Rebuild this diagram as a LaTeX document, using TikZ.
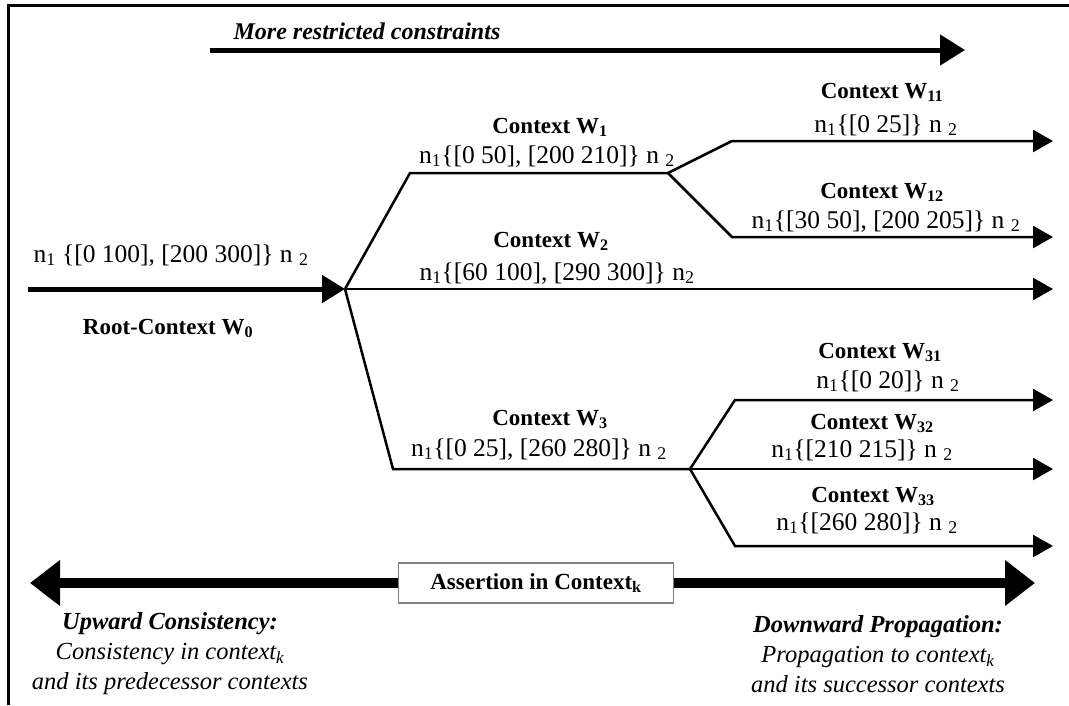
\documentclass[tikz,border=0pt]{standalone}
\usepackage{fontspec}
\setmainfont{Liberation Serif}
\usetikzlibrary{arrows.meta}

\begin{document}
\begin{tikzpicture}[
    x=1pt, y=-1pt,
    every node/.style={align=center, inner sep=0pt, font=\fontsize{25.5}{30}\selectfont},
    ctx/.style={anchor=base, font=\fontsize{23}{30}\selectfont\bfseries},
    rng/.style={anchor=base},
    frame/.style={line width=3pt},
    branch/.style={line width=2.5pt},
    leaf/.style={branch, -{Triangle[length=20pt, width=22pt]}},
    rootline/.style={line width=5pt, -{Triangle[length=23pt, width=27pt]}},
    trend/.style={line width=5pt, -{Triangle[length=25pt, width=30pt]}},
    bigarrow/.style={line width=10pt, {Triangle[length=30pt, width=44pt]}-{Triangle[length=30pt, width=44pt]}},
    assertbox/.style={draw=gray, line width=1.5pt, fill=white, minimum width=275pt, minimum height=40pt, font=\fontsize{23}{30}\selectfont\bfseries},
    note/.style={font=\fontsize{24.5}{30}\selectfont\itshape}
]
\useasboundingbox (0,0) rectangle (1069,705);

% frame
\draw[frame] (8,705) -- (8,5) -- (1069,5);

% More restricted constraints
\coordinate (mrs) at (210,50);
\coordinate (mre) at (965,50);
\draw[trend] (mrs) -- (mre);
\node[rng, font=\fontsize{24}{30}\selectfont\bfseries\itshape] (mrlabel) at (367,39) {More restricted constraints};

% Root context W0
\coordinate (w0s) at (28,289);
\coordinate (w0) at (345,289);
\draw[rootline] (w0s) -- (w0);
\node[rng] (w0rng) at (171,262) {n\textsubscript{1} \{[0 100], [200 300]\} n \textsubscript{2}};
\node[ctx] (w0name) at (168,334) {Root-Context W\textsubscript{0}};

% Context W1
\coordinate (w1a) at (410,173);
\coordinate (w1) at (668,173);
\draw[branch] (w0) -- (w1a) -- (w1);
\node[ctx] (w1name) at (550,133) {Context W\textsubscript{1}};
\node[rng] (w1rng) at (547,163) {n\textsubscript{1}\{[0 50], [200 210]\} n \textsubscript{2}};

% Context W11 and W12
\coordinate (w11a) at (732,141);
\coordinate (w11) at (1053,141);
\draw[leaf] (w1) -- (w11a) -- (w11);
\node[ctx] (w11name) at (882,98) {Context W\textsubscript{11}};
\node[rng] (w11rng) at (886,132) {n\textsubscript{1}\{[0 25]\} n \textsubscript{2}};

\coordinate (w12a) at (732,237);
\coordinate (w12) at (1053,237);
\draw[leaf] (w1) -- (w12a) -- (w12);
\node[ctx] (w12name) at (882,198) {Context W\textsubscript{12}};
\node[rng] (w12rng) at (886,228) {n\textsubscript{1}\{[30 50], [200 205]\} n \textsubscript{2}};

% Context W2
\coordinate (w2) at (1053,289);
\draw[leaf] (w0) -- (w2);
\node[ctx] (w2name) at (551,247) {Context W\textsubscript{2}};
\node[rng] (w2rng) at (557,280) {n\textsubscript{1}\{[60 100], [290 300]\} n\textsubscript{2}};

% Context W3
\coordinate (w3a) at (393,469);
\coordinate (w3) at (690,469);
\draw[branch] (w0) -- (w3a) -- (w3);
\node[ctx] (w3name) at (550,425) {Context W\textsubscript{3}};
\node[rng] (w3rng) at (539,456) {n\textsubscript{1}\{[0 25], [260 280]\} n \textsubscript{2}};

% Context W31, W32, W33
\coordinate (w31a) at (735,400);
\coordinate (w31) at (1053,400);
\draw[leaf] (w3) -- (w31a) -- (w31);
\node[ctx] (w31name) at (880,358) {Context W\textsubscript{31}};
\node[rng] (w31rng) at (888,388) {n\textsubscript{1}\{[0 20]\} n \textsubscript{2}};

\coordinate (w32) at (1053,469);
\draw[leaf] (w3) -- (w32);
\node[ctx] (w32name) at (872,429) {Context W\textsubscript{32}};
\node[rng] (w32rng) at (862,457) {n\textsubscript{1}\{[210 215]\} n \textsubscript{2}};

\coordinate (w33a) at (735,546);
\coordinate (w33) at (1053,546);
\draw[leaf] (w3) -- (w33a) -- (w33);
\node[ctx] (w33name) at (873,502) {Context W\textsubscript{33}};
\node[rng] (w33rng) at (867,530) {n\textsubscript{1}\{[260 280]\} n \textsubscript{2}};

% Assertion in context k
\coordinate (upL) at (30,583);
\coordinate (upR) at (1035,583);
\draw[bigarrow] (upL) -- (upR);
\node[assertbox] (assert) at (536,583) {Assertion in Context\textsubscript{k}};

\node[note] (upward) at (170,654) {\textbf{Upward Consistency:}\\Consistency in context\textsubscript{k}\\and its predecessor contexts};
\node[note] (downward) at (878,654) {\textbf{Downward Propagation:}\\Propagation to context\textsubscript{k}\\and its successor contexts};

\end{tikzpicture}
\end{document}
